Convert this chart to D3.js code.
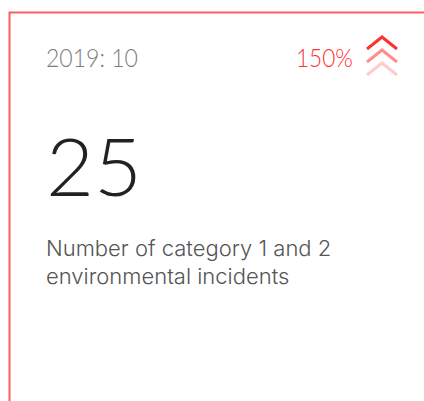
<!DOCTYPE html>
<html>
<head>
<meta charset="utf-8">
<script src="https://cdn.jsdelivr.net/npm/d3@7"></script>
<style>
  html, body { margin: 0; padding: 0; background: #fff; }
  svg { display: block; }
  text { font-family: Lato, "Open Sans", sans-serif; font-weight: 300; }
  text.label { font-family: Inter, Lato, sans-serif; }
</style>
</head>
<body>
<div id="chart"></div>
<script>
const width = 424;
const height = 401;

// kpi card data
const period = "2019: 10";
const value = 25;
const change = 150;
const labelLines = ["Number of category 1 and 2", "environmental incidents"];
const chevronOpacity = [1, 0.55, 0.25];

const red = "#ff3030";

const svg = d3.select("#chart")
    .append("svg")
    .attr("width", width)
    .attr("height", height);

// card border, only top and left are visible in the crop
svg.append("path")
    .attr("d", `M9.5,${height} V12.5 H${width}`)
    .attr("fill", "none")
    .attr("stroke", "#ff5c5c")
    .attr("stroke-width", 2);

svg.append("text")
    .attr("x", 46)
    .attr("y", 67)
    .attr("font-size", 25)
    .attr("fill", "#7c7c7c")
    .attr("textLength", 92)
    .attr("lengthAdjust", "spacingAndGlyphs")
    .text(period);

svg.append("text")
    .attr("x", 296)
    .attr("y", 67)
    .attr("font-size", 25)
    .attr("fill", red)
    .attr("textLength", 57)
    .attr("lengthAdjust", "spacingAndGlyphs")
    .text(d3.format("d")(change) + "%");

// stacked chevrons
const chev = d3.scaleBand()
    .domain(d3.range(chevronOpacity.length))
    .range([37, 76]);

svg.append("g")
    .selectAll("path")
    .data(chevronOpacity)
    .join("path")
    .attr("d", (d, i) => {
        const y = chev(i);
        return `M367,${y + 12} L382,${y} L397,${y + 12}`;
    })
    .attr("fill", "none")
    .attr("stroke", red)
    .attr("stroke-width", 3)
    .attr("opacity", d => d);

svg.append("text")
    .attr("x", 46)
    .attr("y", 196)
    .attr("font-size", 81)
    .attr("fill", "#222")
    .attr("textLength", 96)
    .attr("lengthAdjust", "spacingAndGlyphs")
    .text(value);

svg.append("g")
    .selectAll("text")
    .data(labelLines)
    .join("text")
    .attr("class", "label")
    .attr("x", 46)
    .attr("y", (d, i) => 256 + i * 28)
    .attr("font-size", 22)
    .attr("fill", "#555")
    .text(d => d);
</script>
</body>
</html>
